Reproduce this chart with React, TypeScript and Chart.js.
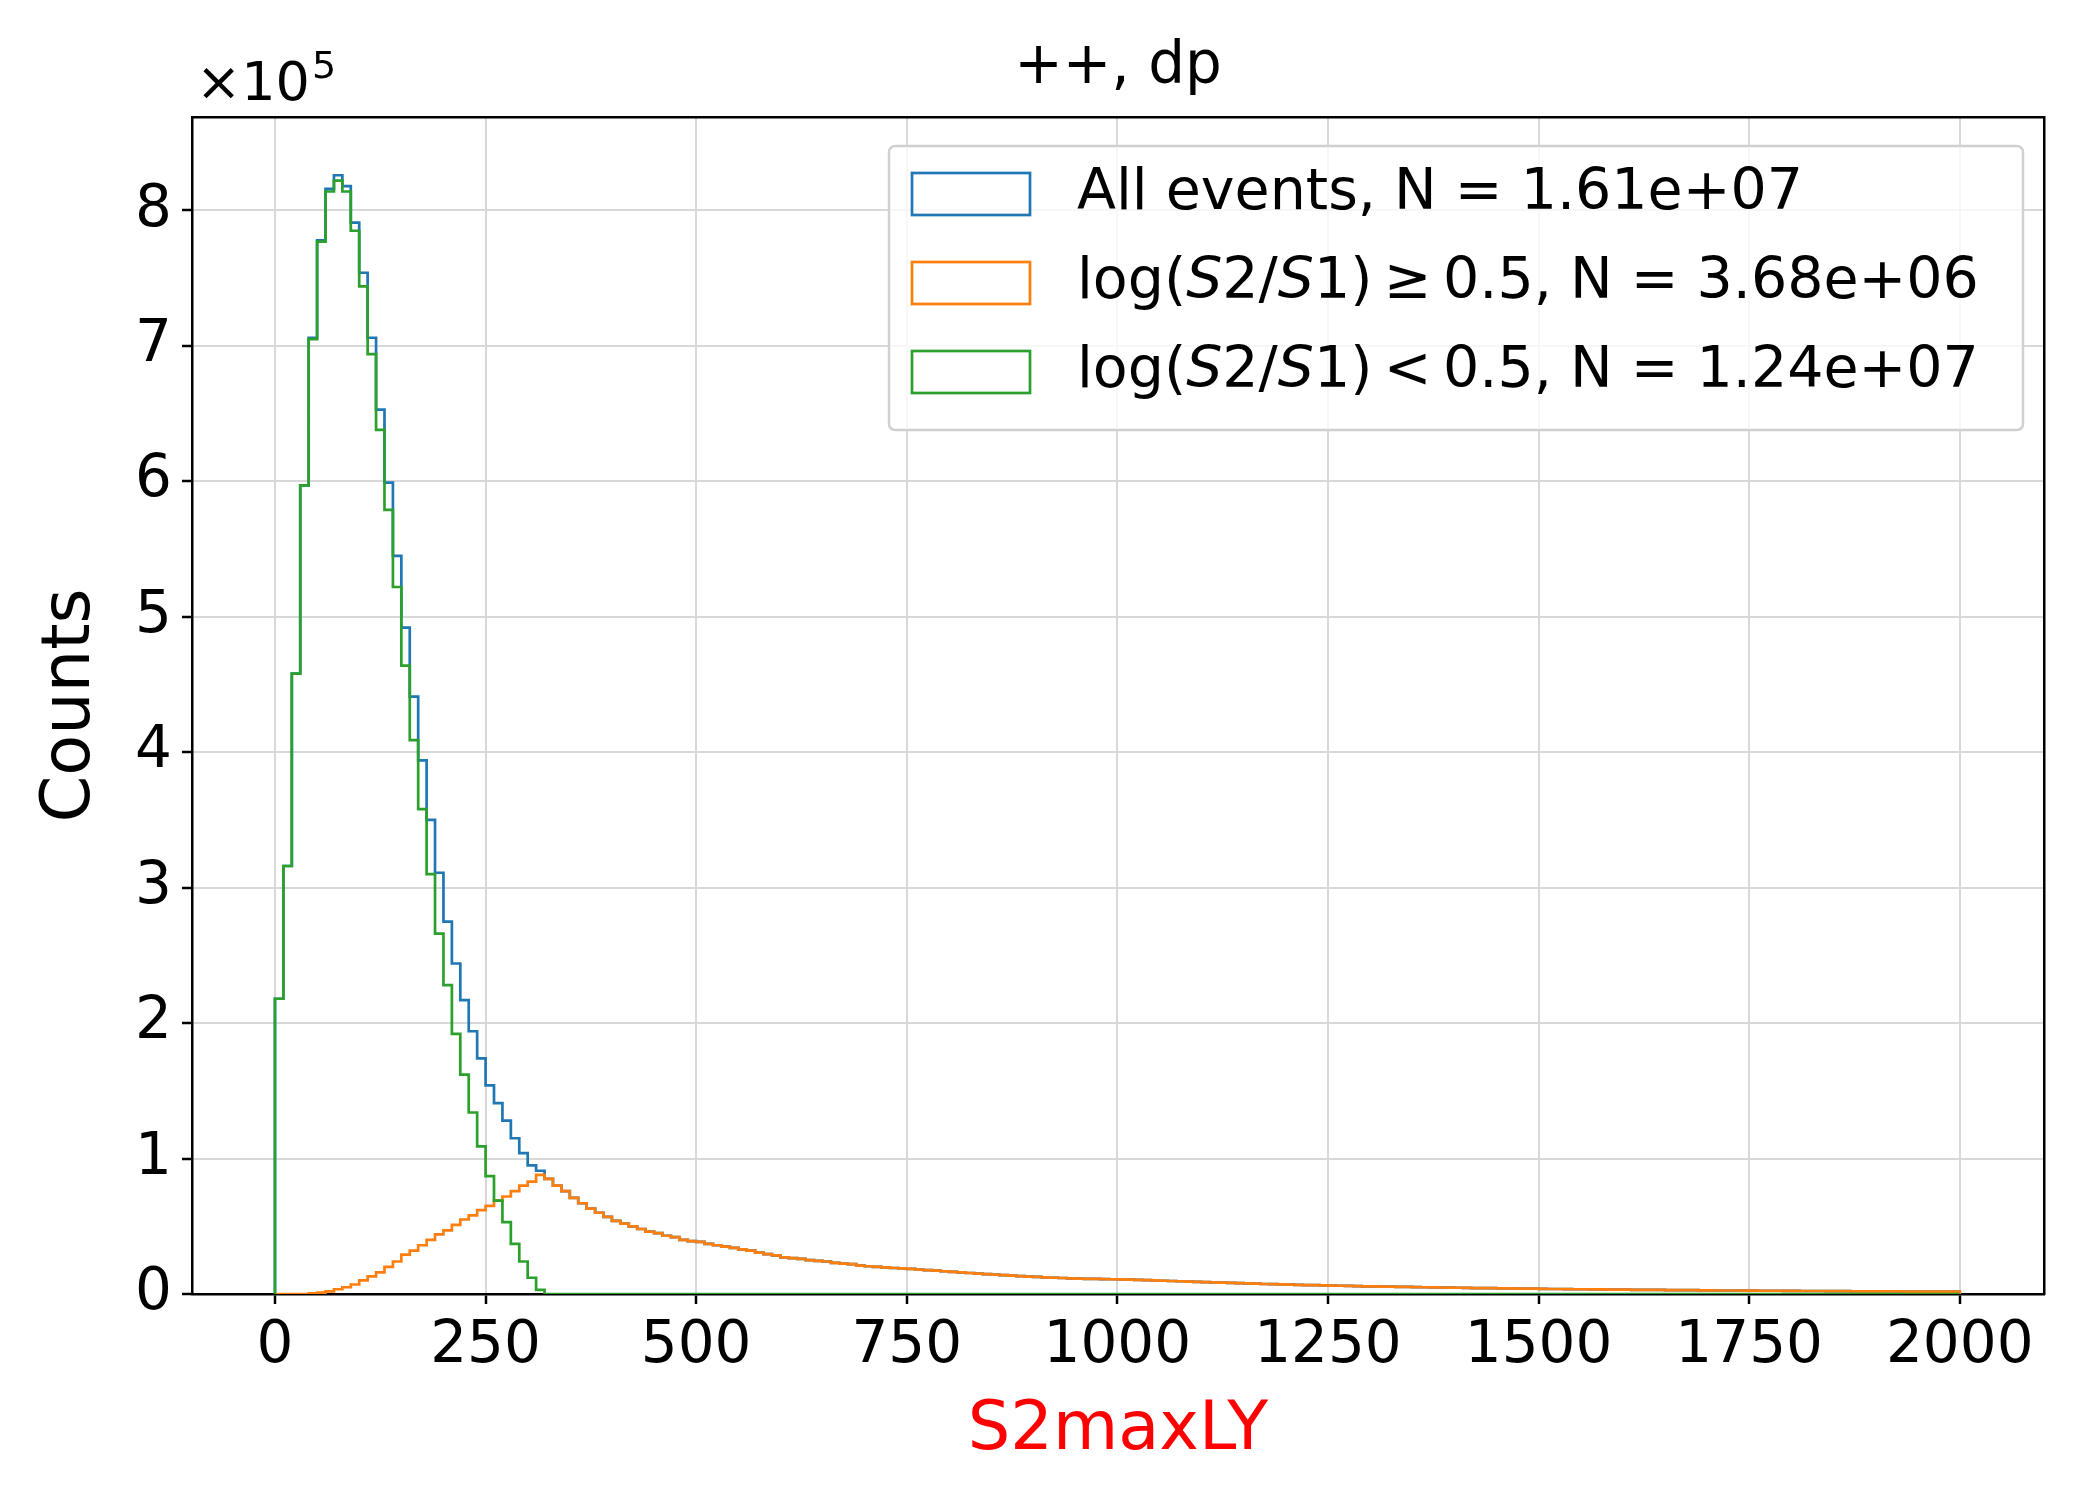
import { useEffect, useRef } from "react";
import { Chart, registerables } from "chart.js";

Chart.register(...registerables);

// bin edges every 10 units from 0 to 2000; values in units of 1e5 counts
const binWidth = 10;
const binCount = 200;

const lowRatio = [
  2.18, 3.16, 4.58, 5.97, 7.05, 7.77, 8.14, 8.22, 8.14, 7.85,
  7.44, 6.94, 6.38, 5.79, 5.22, 4.64, 4.09, 3.58, 3.1, 2.66,
  2.28, 1.92, 1.62, 1.34, 1.09, 0.87, 0.69, 0.53, 0.37, 0.24,
  0.12, 0.03,
];

const highRatio = [
  0, 0, 0, 0, 0.005, 0.01, 0.02, 0.035, 0.05, 0.07,
  0.1, 0.13, 0.16, 0.2, 0.24, 0.29, 0.32, 0.36, 0.4, 0.44,
  0.47, 0.51, 0.55, 0.58, 0.62, 0.65, 0.69, 0.72, 0.76, 0.8,
  0.83, 0.88, 0.85, 0.8, 0.76, 0.71, 0.67, 0.63, 0.6, 0.57,
  0.54, 0.52, 0.5, 0.48, 0.46, 0.45, 0.43, 0.42, 0.4, 0.39,
  0.385, 0.37, 0.36, 0.35, 0.34, 0.33, 0.32, 0.305, 0.295, 0.285,
  0.27, 0.265, 0.26, 0.25, 0.245, 0.24, 0.23, 0.225, 0.22, 0.21,
  0.205, 0.2, 0.196, 0.192, 0.189, 0.186, 0.18, 0.176, 0.172, 0.168,
  0.163, 0.159, 0.155, 0.151, 0.147, 0.143, 0.139, 0.135, 0.132, 0.129,
  0.126, 0.123, 0.12, 0.118, 0.116, 0.114, 0.112, 0.111, 0.11, 0.109,
  0.108, 0.106, 0.104, 0.102, 0.1, 0.098, 0.096, 0.094, 0.092, 0.09,
  0.088, 0.086, 0.084, 0.082, 0.08, 0.078, 0.076, 0.074, 0.073, 0.071,
  0.069, 0.068, 0.066, 0.065, 0.064, 0.062, 0.061, 0.06, 0.058, 0.057,
  0.056, 0.055, 0.054, 0.053, 0.052, 0.051, 0.05, 0.049, 0.048, 0.047,
  0.046, 0.045, 0.044, 0.044, 0.043, 0.042, 0.041, 0.04, 0.04, 0.039,
  0.038, 0.037, 0.037, 0.036, 0.035, 0.035, 0.034, 0.034, 0.033, 0.032,
  0.032, 0.031, 0.031, 0.03, 0.03, 0.029, 0.029, 0.028, 0.028, 0.027,
  0.027, 0.026, 0.026, 0.026, 0.025, 0.025, 0.024, 0.024, 0.024, 0.023,
  0.023, 0.022, 0.022, 0.022, 0.021, 0.021, 0.021, 0.02, 0.02, 0.02,
  0.019, 0.019, 0.019, 0.018, 0.018, 0.018, 0.018, 0.017, 0.017, 0.017,
];

// first bins of "all events"; past these it follows the high-ratio tail
const allHead = [
  2.18, 3.16, 4.58, 5.97, 7.06, 7.78, 8.16, 8.26, 8.18, 7.91,
  7.54, 7.06, 6.53, 5.99, 5.45, 4.92, 4.41, 3.94, 3.5, 3.11,
  2.75, 2.44, 2.17, 1.94, 1.74, 1.54, 1.41, 1.28, 1.15, 1.04,
  0.95, 0.91,
];

const xTicks = [0, 250, 500, 750, 1000, 1250, 1500, 1750, 2000];
const yTicks = [0, 1, 2, 3, 4, 5, 6, 7, 8];

const legendRows = [
  { color: "#1f77b4", parts: [["All events, N = 1.61e+07", false]] },
  {
    color: "#ff7f0e",
    parts: [["log(", false], ["S", true], ["2/", false], ["S", true], ["1)\u2009\u2265\u20090.5, N = 3.68e+06", false]],
  },
  {
    color: "#2ca02c",
    parts: [["log(", false], ["S", true], ["2/", false], ["S", true], ["1)\u2009<\u20090.5, N = 1.24e+07", false]],
  },
];

const FONT = "'DejaVu Sans', sans-serif";

function steps(values: number[]) {
  const pts = [{ x: 0, y: 0 }];
  for (let i = 0; i < binCount; i++) {
    pts.push({ x: i * binWidth, y: values[i] ?? 0 });
  }
  pts.push({ x: binCount * binWidth, y: values[binCount - 1] ?? 0 });
  pts.push({ x: binCount * binWidth, y: 0 });
  return pts;
}

const decorations = {
  id: "decorations",
  afterDraw(chart: Chart) {
    const ctx = chart.ctx;
    const a = chart.chartArea;
    ctx.save();
    ctx.fillStyle = "#000";
    ctx.textBaseline = "middle";

    ctx.font = `58px ${FONT}`;
    ctx.textAlign = "center";
    ctx.fillText("++, dp", (a.left + a.right) / 2, 68);

    ctx.textAlign = "left";
    ctx.font = `54px ${FONT}`;
    ctx.fillText("\u00d710", 196, 86);
    const w = ctx.measureText("\u00d710").width;
    ctx.font = `38px ${FONT}`;
    ctx.fillText("5", 196 + w + 2, 68);

    ctx.fillStyle = "#ff0000";
    ctx.font = `67px ${FONT}`;
    ctx.textAlign = "center";
    ctx.fillText("S2maxLY", (a.left + a.right) / 2, 1432);

    ctx.fillStyle = "#000";
    ctx.save();
    ctx.translate(72, (a.top + a.bottom) / 2);
    ctx.rotate(-Math.PI / 2);
    ctx.fillText("Counts", 0, 0);
    ctx.restore();

    // legend
    ctx.fillStyle = "rgba(255,255,255,0.8)";
    ctx.strokeStyle = "#d0d0d0";
    ctx.lineWidth = 2.5;
    ctx.beginPath();
    ctx.roundRect(889, 146, 1134, 284, 6);
    ctx.fill();
    ctx.stroke();
    ctx.textAlign = "left";
    legendRows.forEach((row, i) => {
      const cy = 194 + i * 89;
      ctx.strokeStyle = row.color;
      ctx.lineWidth = 2.7;
      ctx.strokeRect(912, cy - 21, 118, 42);
      let x = 1077;
      ctx.fillStyle = "#000";
      row.parts.forEach(([t, it]) => {
        ctx.font = `${it ? "italic " : ""}57px ${FONT}`;
        ctx.fillText(t as string, x, cy);
        x += ctx.measureText(t as string).width;
      });
    });
    ctx.restore();
  },
};

export default function App() {
  const canvasRef = useRef<HTMLCanvasElement | null>(null);
  const chartRef = useRef<Chart | null>(null);

  useEffect(() => {
    document.body.style.margin = "0";
    if (!canvasRef.current) return;
    if (chartRef.current) chartRef.current.destroy();

    const allEvents = [...allHead, ...highRatio.slice(allHead.length)];
    const mk = (label: string, values: number[], color: string, order: number) => ({
      label,
      data: steps(values),
      borderColor: color,
      borderWidth: 2.7,
      stepped: true,
      pointRadius: 0,
      fill: false,
      order,
    });

    const tickFont = { family: FONT, size: 58 };

    chartRef.current = new Chart(canvasRef.current, {
      type: "line",
      data: {
        datasets: [
          mk("All events", allEvents, "#1f77b4", 3),
          mk("high", highRatio, "#ff7f0e", 2),
          mk("low", lowRatio, "#2ca02c", 1),
        ],
      },
      options: {
        animation: false,
        responsive: false,
        devicePixelRatio: 1,
        layout: { padding: { top: 117, right: 56, left: 0, bottom: 0 } },
        plugins: { legend: { display: false }, tooltip: { enabled: false } },
        scales: {
          x: {
            type: "linear",
            min: -98.5,
            max: 2100,
            afterBuildTicks: (s: any) => {
              s.ticks = xTicks.map((v) => ({ value: v }));
            },
            afterFit: (s: any) => {
              s.height = 206;
            },
            grid: { color: "#d8d8d8", lineWidth: 2, tickColor: "#000", tickLength: 10, tickWidth: 2.5 },
            border: { color: "#000", width: 2.5 },
            ticks: { color: "#000", font: tickFont, padding: 8, maxRotation: 0, callback: (v: any) => String(v) },
          },
          y: {
            min: 0,
            max: 8.69,
            afterBuildTicks: (s: any) => {
              s.ticks = yTicks.map((v) => ({ value: v }));
            },
            afterFit: (s: any) => {
              s.width = 192;
            },
            grid: { color: "#d8d8d8", lineWidth: 2, tickColor: "#000", tickLength: 10, tickWidth: 2.5 },
            border: { color: "#000", width: 2.5 },
            ticks: { color: "#000", font: tickFont, padding: 10, callback: (v: any) => String(v) },
          },
          x2: {
            type: "linear",
            position: "top",
            display: true,
            min: 0,
            max: 1,
            afterFit: (s: any) => {
              s.height = 0;
            },
            grid: { display: false },
            ticks: { display: false },
            border: { color: "#000", width: 2.5 },
          },
          y2: {
            position: "right",
            display: true,
            min: 0,
            max: 1,
            afterFit: (s: any) => {
              s.width = 0;
            },
            grid: { display: false },
            ticks: { display: false },
            border: { color: "#000", width: 2.5 },
          },
        },
      },
      plugins: [decorations],
    });

    return () => {
      if (chartRef.current) {
        chartRef.current.destroy();
        chartRef.current = null;
      }
    };
  }, []);

  return <canvas ref={canvasRef} width={2100} height={1500} />;
}
